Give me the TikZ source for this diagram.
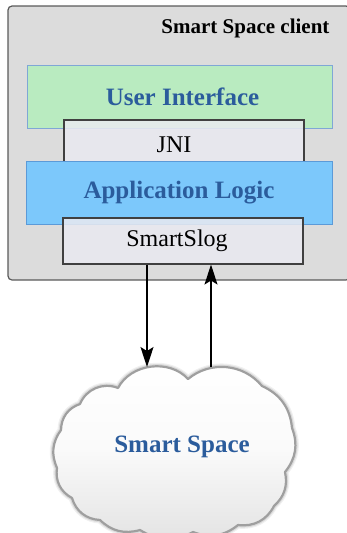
\documentclass[tikz,border=0pt]{standalone}
\usepackage{fontspec}
\setmainfont{Liberation Serif}
\usetikzlibrary{arrows.meta}
\definecolor{outerfill}{HTML}{DCDCDC}
\definecolor{outerline}{HTML}{5A5A5A}
\definecolor{uifill}{HTML}{B9EBC0}
\definecolor{uiline}{HTML}{7FA7D6}
\definecolor{alfill}{HTML}{7CC8FB}
\definecolor{alline}{HTML}{5B9AD8}
\definecolor{libfill}{HTML}{EAEAF0}
\definecolor{libline}{HTML}{404040}
\definecolor{titleblue}{HTML}{2B5C9C}
\tikzset{
  layerbox/.style={draw, line width=0.9pt, minimum width=#1, inner sep=0pt, font=\fontsize{25}{28}\selectfont\bfseries, text=titleblue},
  libbox/.style={draw=libline, line width=1.1pt, fill=libfill, fill opacity=0.85, text opacity=1, inner sep=0pt, minimum width=240pt, font=\fontsize{24}{28}\selectfont},
  link/.style={line width=1.4pt, -{Stealth[length=20pt,width=13pt,inset=4pt]}},
}
\begin{document}
\begin{tikzpicture}[x=1pt,y=-1pt]
\useasboundingbox (0,0) rectangle (347,533);
% outer client box
\node[draw=outerline, fill=outerfill, line width=1.2pt, rounded corners=4pt, minimum width=342pt, minimum height=274pt, inner sep=0pt] (client) at (179,143) {};
\node[anchor=base east, font=\fontsize{21}{24}\selectfont\bfseries] (title) at (333,33) {Smart Space client};
% layers
\node[layerbox=305pt, fill=uifill, draw=uiline, minimum height=63pt] (ui) at (180,96.5) {\hspace*{5pt}User Interface};
\node[libbox, minimum height=49pt] (jni) at (184,144.5) {JNI\hspace*{20pt}};
\node[layerbox=306pt, fill=alfill, draw=alline, minimum height=63pt] (al) at (179,192.5) {Application Logic};
\node[libbox, minimum height=46pt] (slog) at (183,241) {SmartSlog\hspace*{12pt}};
% cloud
\coordinate (cA) at (118,388);
\coordinate (cB) at (188,379);
\coordinate (cC) at (262,386);
\coordinate (cD) at (292,428);
\coordinate (cE) at (285,472);
\coordinate (cF) at (274,506);
\coordinate (cG) at (238,525);
\coordinate (cH) at (193,532);
\coordinate (cI) at (140,530);
\coordinate (cJ) at (100,520);
\coordinate (cK) at (72,498);
\coordinate (cL) at (57,468);
\coordinate (cM) at (61,430);
\coordinate (cN) at (80,404);
\def\cloudpath{(cA) to[bend left=55] (cB) to[bend left=45] (cC) to[bend left=30] (cD) to[bend left=30] (cE) to[bend left=30] (cF) to[bend left=35] (cG) to[bend left=30] (cH) to[bend left=30] (cI) to[bend left=30] (cJ) to[bend left=35] (cK) to[bend left=35] (cL) to[bend left=30] (cM) to[bend left=35] (cN) to[bend left=45] (cA)}
\draw[line width=7pt, gray, draw opacity=0.12, line join=round] \cloudpath -- cycle;
\draw[line width=4.5pt, gray, draw opacity=0.2, line join=round] \cloudpath -- cycle;
\draw[line width=2.2pt, gray!75, line join=round, top color=white, bottom color=gray!22, middle color=white!96!gray] \cloudpath -- cycle;
\node[font=\fontsize{25}{28}\selectfont\bfseries, text=titleblue] (space) at (182,447) {Smart Space};
\coordinate (downend) at (147,367);
\coordinate (upstart) at (211,367);
% connectors
\draw[link] (slog.south -| downend) -- (downend);
\draw[link] (upstart) -- (slog.south -| upstart);
\end{tikzpicture}
\end{document}
